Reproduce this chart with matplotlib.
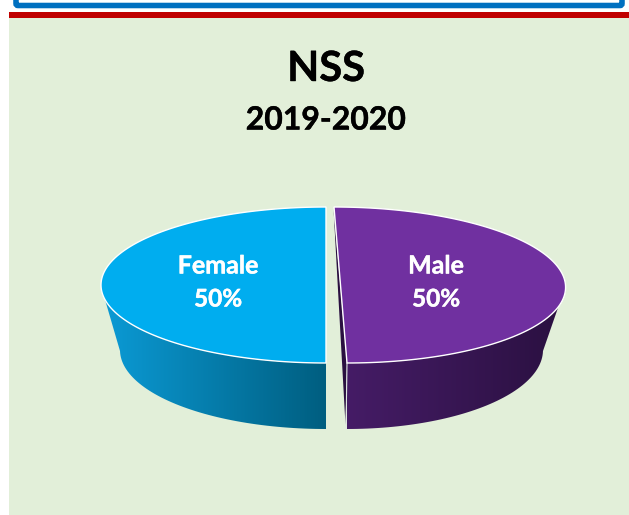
import numpy as np
import matplotlib
matplotlib.use('Agg')
import matplotlib.pyplot as plt
import matplotlib.patheffects as pe
from matplotlib.patches import Polygon, Rectangle, FancyBboxPatch

title = 'NSS'
subtitle = '2019-2020'
categories = ['Female', 'Male']
values = [50, 50]
top_colors = ['#00adef', '#7030a0']
side_colors = [['#0b9bd6', '#005e80'], ['#451c66', '#2a1040']]

#top ellipse and lower rim of each slice, in pixels
top_geom = [(326, 285, 225, 78, 0), (340.5, 285, 225, 78, -6.5)]
low_geom = [(326, 350, 206, 79, 0), (347, 350, 196, 79, 0)]

def arc(geom, t):
	cx, cy, a, b, shear = geom
	return np.column_stack([cx + a * np.cos(t) + shear * np.sin(t), cy - b * np.sin(t)])

def label(ax, x, y, s, color, size, zorder=5, stroke=0.3):
	ax.text(x, y, s, color=color, fontsize=size, fontweight='bold', ha='center', va='center',
		zorder=zorder, path_effects=[pe.withStroke(linewidth=stroke, foreground=color)])

def main():
	plt.rcParams['font.family'] = ['Lato', 'DejaVu Sans']
	fig = plt.figure(figsize=(6.29, 5.15), dpi=100)
	ax = fig.add_axes([0, 0, 1, 1])
	ax.set_xlim(0, 629)
	ax.set_ylim(515, 0)
	ax.axis('off')

	#page furniture around the chart
	ax.add_patch(Rectangle((9, 18), 620, 497, fc='#e2efd9', ec='none'))
	ax.add_patch(Rectangle((9, 12), 620, 6, fc='#c00000', ec='none'))
	ax.add_patch(FancyBboxPatch((16, -20), 606, 25.5, boxstyle='round,pad=0,rounding_size=2',
		fc='white', ec='#0070c0', lw=4))

	#one slice per value, going anticlockwise from the top
	total = sum(values)
	start = np.pi / 2
	for i in range(0, len(values)):
		span = 2 * np.pi * values[i] / total
		t = np.linspace(start, start + span, 120)
		start += span
		top = arc(top_geom[i], t)
		#only the front half of the rim is visible
		front = t[np.sin(t) <= 0]
		upper = arc(top_geom[i], front)
		lower = arc(low_geom[i], front)
		if i == 1:
			side = np.vstack([upper[::-1], lower])
		else:
			side = np.vstack([upper, lower[::-1]])
		poly = Polygon(side, closed=True, fc='none', ec='none')
		ax.add_patch(poly)
		grad = np.linspace(0, 1, 256).reshape(1, -1)
		cmap = matplotlib.colors.LinearSegmentedColormap.from_list('s', side_colors[i])
		im = ax.imshow(grad, cmap=cmap, extent=[side[:, 0].min(), side[:, 0].max(), 440, 280],
			aspect='auto', zorder=2)
		im.set_clip_path(poly)
		if i == 1:
			#dark sliver showing the cut face of the right slice
			ax.add_patch(Polygon([(333.5, 208), (338, 290), (345.5, 425), (347, 363)], closed=True,
				fc='#2a1040', ec='none', zorder=2))
			ax.plot([347, 346], [363, 429], color='#dfe6e4', lw=0.8, zorder=3)
		ax.add_patch(Polygon(top, closed=True, fc=top_colors[i], ec='white', lw=1.0, zorder=4))
		cx = 218 if i == 0 else 436
		label(ax, cx, 266, categories[i], 'white', 18)
		label(ax, cx, 299, str(values[i]) + '%', 'white', 17.5)

	ax.set_xlim(0, 629)
	ax.set_ylim(515, 0)
	label(ax, 326, 69, title, 'black', 30)
	label(ax, 326, 120, subtitle, 'black', 23)

	fig.savefig('out.png', dpi=100)

if __name__ == '__main__':
	main()
